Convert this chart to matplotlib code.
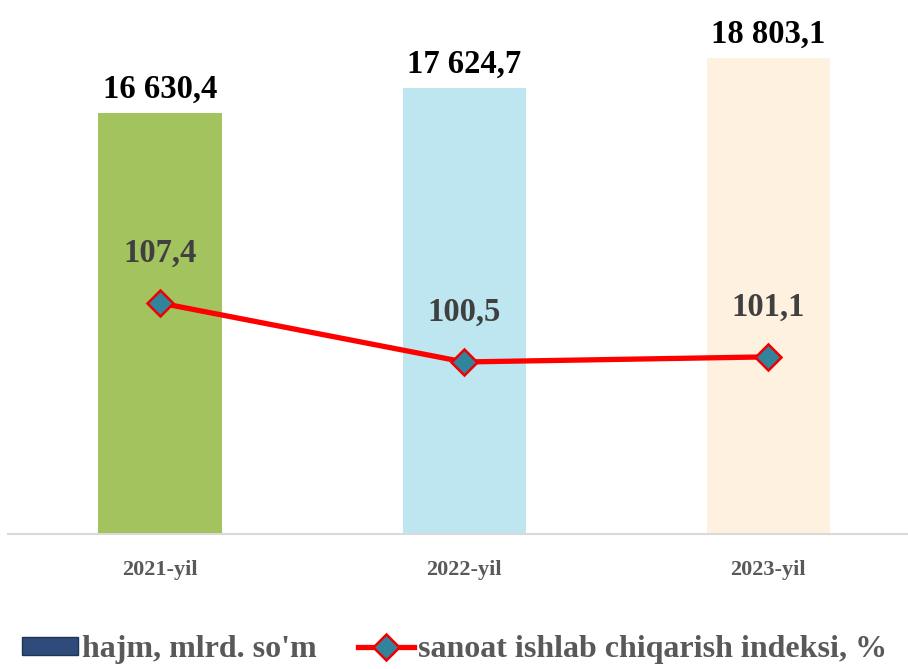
import matplotlib
matplotlib.use("Agg")
import matplotlib.pyplot as plt
from matplotlib.patches import Patch
from matplotlib.lines import Line2D

plt.rcParams['font.family'] = ['Liberation Serif', 'DejaVu Serif']
plt.rcParams['font.weight'] = 'bold'

years = ["2021-yil", "2022-yil", "2023-yil"]
hajm = [16630.4, 17624.7, 18803.1]
hajm_labels = ["16 630,4", "17 624,7", "18 803,1"]
indeks = [107.4, 100.5, 101.1]
indeks_labels = ["107,4", "100,5", "101,1"]

bar_colors = ["#A3C35F", "#BEE6F0", "#FEF1DF"]
x = list(range(len(years)))

fig = plt.figure(figsize=(9.08, 6.69), dpi=100)
ax = fig.add_axes([8/908, 1 - 534/669, 900/908, 534/669])
ax.bar(x, hajm, width=0.405, color=bar_colors, zorder=2)
ax.set_xlim(-0.5, 2.46)
ax.set_ylim(0, 21098)
for xi, v, lab in zip(x, hajm, hajm_labels):
    ax.annotate(lab, (xi, v), xytext=(0, 6), textcoords="offset points",
                ha="center", va="bottom", fontsize=23.5, fontweight="bold", color="black")

ax.set_yticks([])
for s in ["top", "right", "left"]:
    ax.spines[s].set_visible(False)
ax.spines["bottom"].set_color("#D9D9D9")
ax.spines["bottom"].set_linewidth(1.5)
ax.set_xticks(x)
ax.set_xticklabels(years, fontsize=16, fontweight="bold", color="#595959")
ax.tick_params(axis="x", length=0, pad=19)

ax2 = ax.twinx()
ax2.set_ylim(80.38, 142.84)
ax2.plot(x, indeks, color="#FF0000", linewidth=3.8, marker="D", markersize=13,
         markerfacecolor="#31849B", markeredgecolor="#F00000", markeredgewidth=1.8, zorder=3)
for xi, v, lab in zip(x, indeks, indeks_labels):
    ax2.annotate(lab, (xi, v), xytext=(0, 36), textcoords="offset points",
                 ha="center", va="center", fontsize=23.5, fontweight="bold", color="#404040")
ax2.set_yticks([])
for s in ["top", "right", "left", "bottom"]:
    ax2.spines[s].set_visible(False)

handles = [Patch(facecolor="#2F4B7C", edgecolor="#1F3556"),
           Line2D([0], [0], color="#FF0000", linewidth=3.8, marker="D", markersize=13,
                  markerfacecolor="#31849B", markeredgecolor="#F00000", markeredgewidth=1.8)]
fig.legend(handles, ["hajm, mlrd. so'm", "sanoat ishlab chiqarish indeksi, %"],
           loc="center left", bbox_to_anchor=(22/908, 1 - 650/669), ncol=2, frameon=False,
           prop={"family": "Liberation Serif", "weight": "bold", "size": 23},
           labelcolor="#595959", handlelength=1.75, handleheight=0.5,
           handletextpad=0.125, columnspacing=1.3, borderpad=0, borderaxespad=0)

fig.savefig("out.png", dpi=100)
